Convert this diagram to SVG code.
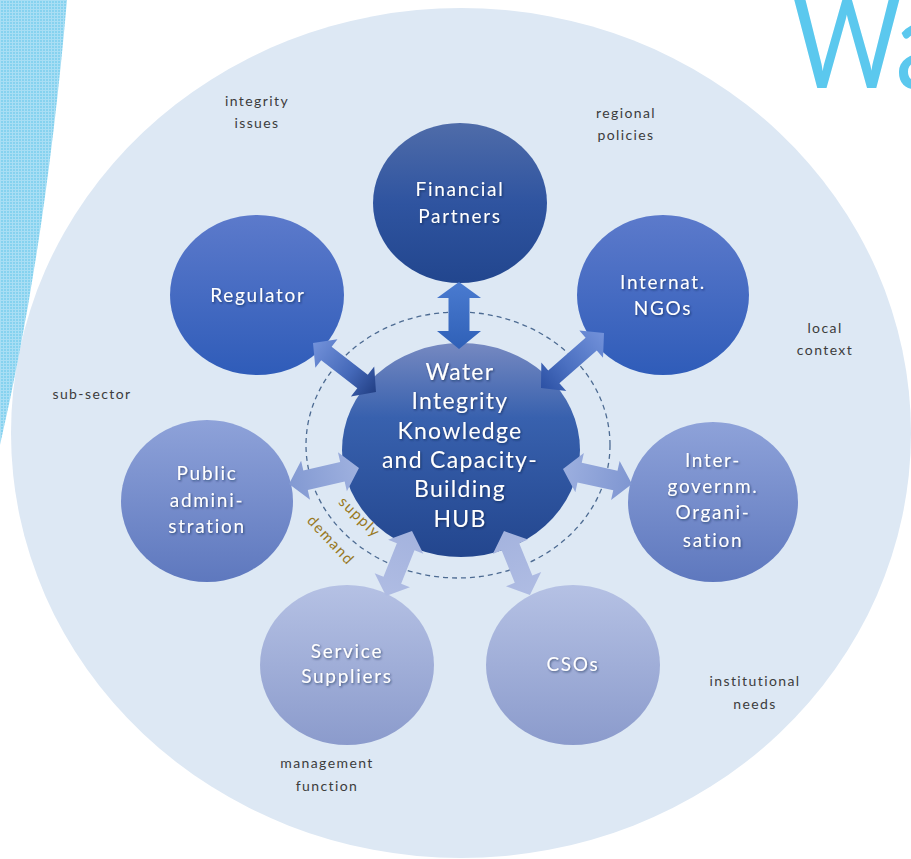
<svg xmlns="http://www.w3.org/2000/svg" width="911" height="859" viewBox="0 0 911 859">
<defs>
<pattern id="hatch" width="3" height="3" patternUnits="userSpaceOnUse">
<rect width="3" height="3" fill="#86d2ef"/>
<rect width="3" height="1" fill="#a9def4"/>
<rect width="1" height="3" fill="#a9def4"/>
</pattern>
<linearGradient id="gFin" x1="0" y1="0" x2="0" y2="1"><stop offset="0" stop-color="#4f6ca9"/><stop offset="0.5" stop-color="#2f54a0"/><stop offset="1" stop-color="#22468e"/></linearGradient>
<linearGradient id="gReg" x1="0" y1="0" x2="0" y2="1"><stop offset="0" stop-color="#5c7acb"/><stop offset="1" stop-color="#2f5cb9"/></linearGradient>
<linearGradient id="gHub" x1="0" y1="0" x2="0" y2="1"><stop offset="0" stop-color="#7689c1"/><stop offset="0.35" stop-color="#3861ae"/><stop offset="1" stop-color="#23468e"/></linearGradient>
<linearGradient id="gPub" x1="0" y1="0" x2="0" y2="1"><stop offset="0" stop-color="#8ea2d9"/><stop offset="1" stop-color="#5e78be"/></linearGradient>
<linearGradient id="gSS" x1="0" y1="0" x2="0" y2="1"><stop offset="0" stop-color="#b5c1e4"/><stop offset="1" stop-color="#8b9bcc"/></linearGradient>
<linearGradient id="aFin" x1="0" y1="0" x2="1" y2="0"><stop offset="0" stop-color="#4a7bd0"/><stop offset="1" stop-color="#2f60b7"/></linearGradient>
<linearGradient id="aReg" x1="0" y1="0" x2="1" y2="0"><stop offset="0" stop-color="#7392da"/><stop offset="0.6" stop-color="#4468b8"/><stop offset="1" stop-color="#223f84"/></linearGradient>
<linearGradient id="aNgo" x1="0" y1="0" x2="1" y2="0"><stop offset="0" stop-color="#7392da"/><stop offset="0.6" stop-color="#4a6fc0"/><stop offset="1" stop-color="#2c51a4"/></linearGradient>
<linearGradient id="aPub" x1="0" y1="0" x2="1" y2="0"><stop offset="0" stop-color="#8299d2"/><stop offset="1" stop-color="#9fb1df"/></linearGradient>
<linearGradient id="aInt" x1="0" y1="0" x2="1" y2="0"><stop offset="0" stop-color="#9cafdf"/><stop offset="1" stop-color="#7f96d1"/></linearGradient>
<linearGradient id="aLow" x1="0" y1="0" x2="1" y2="0"><stop offset="0" stop-color="#a4b3de"/><stop offset="1" stop-color="#afbce3"/></linearGradient>
<filter id="sh" x="-20%" y="-20%" width="140%" height="140%">
<feDropShadow dx="1" dy="1.2" stdDeviation="0.8" flood-color="#0a1a40" flood-opacity="0.6"/>
</filter>
</defs>
<style>
.node text{font-family:Lato,"Open Sans","Liberation Sans",sans-serif;fill:#ffffff;text-anchor:middle;font-size:19px;letter-spacing:1.7px;filter:url(#sh)}
.hub text{font-size:23px;letter-spacing:1.3px}
.lbl{font-family:Lato,"Open Sans","Liberation Sans",sans-serif;fill:#3c3c3c;font-size:14px;letter-spacing:1.4px;text-anchor:middle}
.sd{font-family:Lato,"Open Sans","Liberation Sans",sans-serif;fill:#98781f;font-size:15px;letter-spacing:1.4px;text-anchor:middle}
</style>
<rect width="911" height="859" fill="#ffffff"/>
<ellipse cx="461" cy="433" rx="450" ry="425" fill="#dde8f4"/>
<path d="M0,0 L67,0 Q45,250 0,445 Z" fill="url(#hatch)"/>
<text transform="translate(792,88) scale(0.84,1)" font-family="Lato,'Open Sans','Liberation Sans',sans-serif" font-size="126" fill="#5bc8ee">Wa</text>
<ellipse cx="458" cy="445" rx="152" ry="133" fill="none" stroke="#4d6b92" stroke-width="1.3" stroke-dasharray="5,4"/>
<g id="financial-partners" class="node"><ellipse cx="460" cy="203" rx="87" ry="80" fill="url(#gFin)"/><text x="460" y="196">Financial</text><text x="460" y="222.5">Partners</text></g>
<g id="regulator" class="node"><ellipse cx="257" cy="295" rx="87" ry="80" fill="url(#gReg)"/><text x="258" y="301.7">Regulator</text></g>
<g id="internat-ngos" class="node"><ellipse cx="663" cy="295" rx="86" ry="80" fill="url(#gReg)"/><text x="663" y="289.3">Internat.</text><text x="663" y="315">NGOs</text></g>
<g id="public-administration" class="node"><ellipse cx="207" cy="501" rx="86" ry="81" fill="url(#gPub)"/><text x="207" y="480">Public</text><text x="207" y="506.7">admini-</text><text x="207" y="533">stration</text></g>
<g id="intergovernm-organisation" class="node"><ellipse cx="713" cy="502" rx="85" ry="80" fill="url(#gPub)"/><text x="713" y="466.7">Inter-</text><text x="713" y="493">governm.</text><text x="713" y="519">Organi-</text><text x="713" y="546.7">sation</text></g>
<g id="service-suppliers" class="node"><ellipse cx="347" cy="665" rx="87" ry="80" fill="url(#gSS)"/><text x="347" y="658">Service</text><text x="347" y="683">Suppliers</text></g>
<g id="csos" class="node"><ellipse cx="573" cy="665" rx="87" ry="80" fill="url(#gSS)"/><text x="573" y="670.7">CSOs</text></g>
<g id="hub" class="node hub"><ellipse cx="461" cy="450" rx="119" ry="107" fill="url(#gHub)"/><text x="460" y="380">Water</text><text x="460" y="409.3">Integrity</text><text x="460" y="438.6">Knowledge</text><text x="460" y="467.9">and Capacity-</text><text x="460" y="497.2">Building</text><text x="460" y="526.5">HUB</text></g>
<g id="connectors">
<polygon transform="translate(459,282) rotate(90)" points="0,0 16,-22 16,-10.5 49,-10.5 49,-22 67,0 49,22 49,10.5 16,10.5 16,22" fill="url(#aFin)"/>
<polygon transform="translate(313,343) rotate(37.9)" points="0,0 17,-18 17,-8.5 62.8,-8.5 62.8,-19 79.8,0 62.8,19 62.8,8.5 17,8.5 17,18" fill="url(#aReg)"/>
<polygon transform="translate(604,333) rotate(138.9)" points="0,0 17,-18 17,-8.5 66.6,-8.5 66.6,-19 83.6,0 66.6,19 66.6,8.5 17,8.5 17,18" fill="url(#aNgo)"/>
<polygon transform="translate(289,484) rotate(-12.9)" points="0,0 17,-20 17,-10 54.8,-10 54.8,-20 71.8,0 54.8,20 54.8,10 17,10 17,20" fill="url(#aPub)"/>
<polygon transform="translate(563,469) rotate(12.3)" points="0,0 17,-20 17,-10 53.6,-10 53.6,-20 70.6,0 53.6,20 53.6,10 17,10 17,20" fill="url(#aInt)"/>
<polygon transform="translate(412,531) rotate(111.8)" points="0,0 17,-19 17,-9.5 53,-9.5 53,-19 70,0 53,19 53,9.5 17,9.5 17,19" fill="url(#aLow)"/>
<polygon transform="translate(504,531) rotate(67.9)" points="0,0 17,-19 17,-9.5 52,-9.5 52,-19 69,0 52,19 52,9.5 17,9.5 17,19" fill="url(#aLow)"/>
</g>
<text class="sd" transform="translate(359,518) rotate(44)" y="4">supply</text>
<text class="sd" transform="translate(330,541) rotate(47)" y="4">demand</text>
<g id="labels">
<text class="lbl" x="257" y="106">integrity</text><text class="lbl" x="257" y="128">issues</text>
<text class="lbl" x="626" y="118">regional</text><text class="lbl" x="626" y="140">policies</text>
<text class="lbl" x="825" y="333">local</text><text class="lbl" x="825" y="355">context</text>
<text class="lbl" x="92" y="399">sub-sector</text>
<text class="lbl" x="755" y="686">institutional</text><text class="lbl" x="755" y="709">needs</text>
<text class="lbl" x="327" y="768">management</text><text class="lbl" x="327" y="791">function</text>
</g>
</svg>
